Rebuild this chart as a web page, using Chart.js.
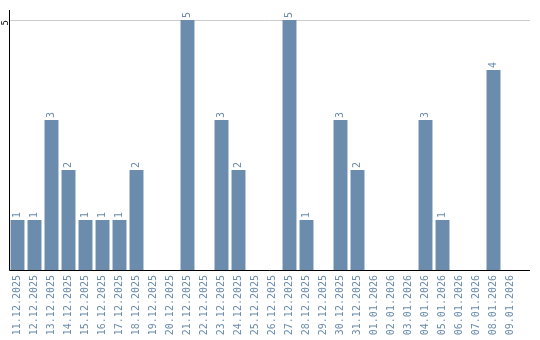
<!DOCTYPE html>
<html><head><meta charset="utf-8">
<script src="https://cdn.jsdelivr.net/npm/chart.js@4"></script>
<style>html,body{margin:0;padding:0;background:#fff}#wrap{width:540px;height:340px}</style>
</head><body><div id="wrap"><canvas id="c"></canvas></div>
<script>
const categories = ["11.12.2025","12.12.2025","13.12.2025","14.12.2025","15.12.2025","16.12.2025","17.12.2025","18.12.2025","19.12.2025","20.12.2025","21.12.2025","22.12.2025","23.12.2025","24.12.2025","25.12.2025","26.12.2025","27.12.2025","28.12.2025","29.12.2025","30.12.2025","31.12.2025","01.01.2026","02.01.2026","03.01.2026","04.01.2026","05.01.2026","06.01.2026","07.01.2026","08.01.2026","09.01.2026"];
const values = [1,1,3,2,1,1,1,2,0,0,5,0,3,2,0,0,5,1,0,3,2,0,0,0,3,1,0,0,4,0];
const yTicks = [5];
const yMax = 5.2;

const barColor = '#6b8cac';
const labelColor = '#6a8bad';

const extras = {
  id: 'extras',
  beforeDatasetsDraw(chart) {
    const {ctx, chartArea, scales} = chart;
    ctx.save();
    ctx.strokeStyle = '#cccccc';
    ctx.lineWidth = 1;
    yTicks.forEach(v => {
      const y = Math.round(scales.y.getPixelForValue(v)) + 0.5;
      ctx.beginPath();
      ctx.moveTo(chartArea.left, y);
      ctx.lineTo(chartArea.right + 11, y);
      ctx.stroke();
    });
    ctx.restore();
  },
  afterDatasetsDraw(chart) {
    const {ctx, chartArea} = chart;
    ctx.save();
    ctx.strokeStyle = '#000';
    ctx.lineWidth = 1;
    const lx = Math.round(chartArea.left) + 0.5;
    const by = Math.round(chartArea.bottom) + 0.5;
    ctx.beginPath();
    ctx.moveTo(lx, chartArea.top);
    ctx.lineTo(lx, by);
    ctx.lineTo(chartArea.right + 11, by);
    ctx.stroke();
    const meta = chart.getDatasetMeta(0);
    ctx.fillStyle = labelColor;
    ctx.font = '10px "DejaVu Sans Mono"';
    ctx.textAlign = 'left';
    ctx.textBaseline = 'middle';
    meta.data.forEach((el, i) => {
      const v = values[i];
      if (!v) return;
      ctx.save();
      ctx.translate(el.x, el.y - 2);
      ctx.rotate(-Math.PI / 2);
      ctx.fillText(String(v), 0, 0);
      ctx.restore();
    });
    ctx.restore();
  }
};

new Chart(document.getElementById('c'), {
  type: 'bar',
  data: {
    labels: categories,
    datasets: [{
      data: values,
      backgroundColor: barColor,
      borderWidth: 0,
      barPercentage: 0.82,
      categoryPercentage: 1.0
    }]
  },
  options: {
    responsive: true,
    maintainAspectRatio: false,
    animation: false,
    layout: { padding: { top: 10, right: 21, left: 0, bottom: 0 } },
    plugins: { legend: { display: false }, tooltip: { enabled: false } },
    scales: {
      x: {
        grid: { display: false, drawTicks: false },
        border: { display: false },
        ticks: {
          autoSkip: false,
          minRotation: 90, maxRotation: 90,
          padding: 5,
          color: labelColor,
          font: { family: '"DejaVu Sans Mono"', size: 10 }
        },
        afterFit(s) { s.height = 70; }
      },
      y: {
        min: 0, max: yMax,
        grid: { display: false, drawTicks: false },
        border: { display: false },
        afterBuildTicks(s) { s.ticks = yTicks.map(v => ({ value: v })); },
        ticks: {
          minRotation: 90, maxRotation: 90,
          padding: 3,
          color: '#000',
          font: { family: '"DejaVu Sans Mono"', size: 9 }
        },
        afterFit(s) { s.width = 9; }
      }
    }
  },
  plugins: [extras]
});
</script></body></html>
